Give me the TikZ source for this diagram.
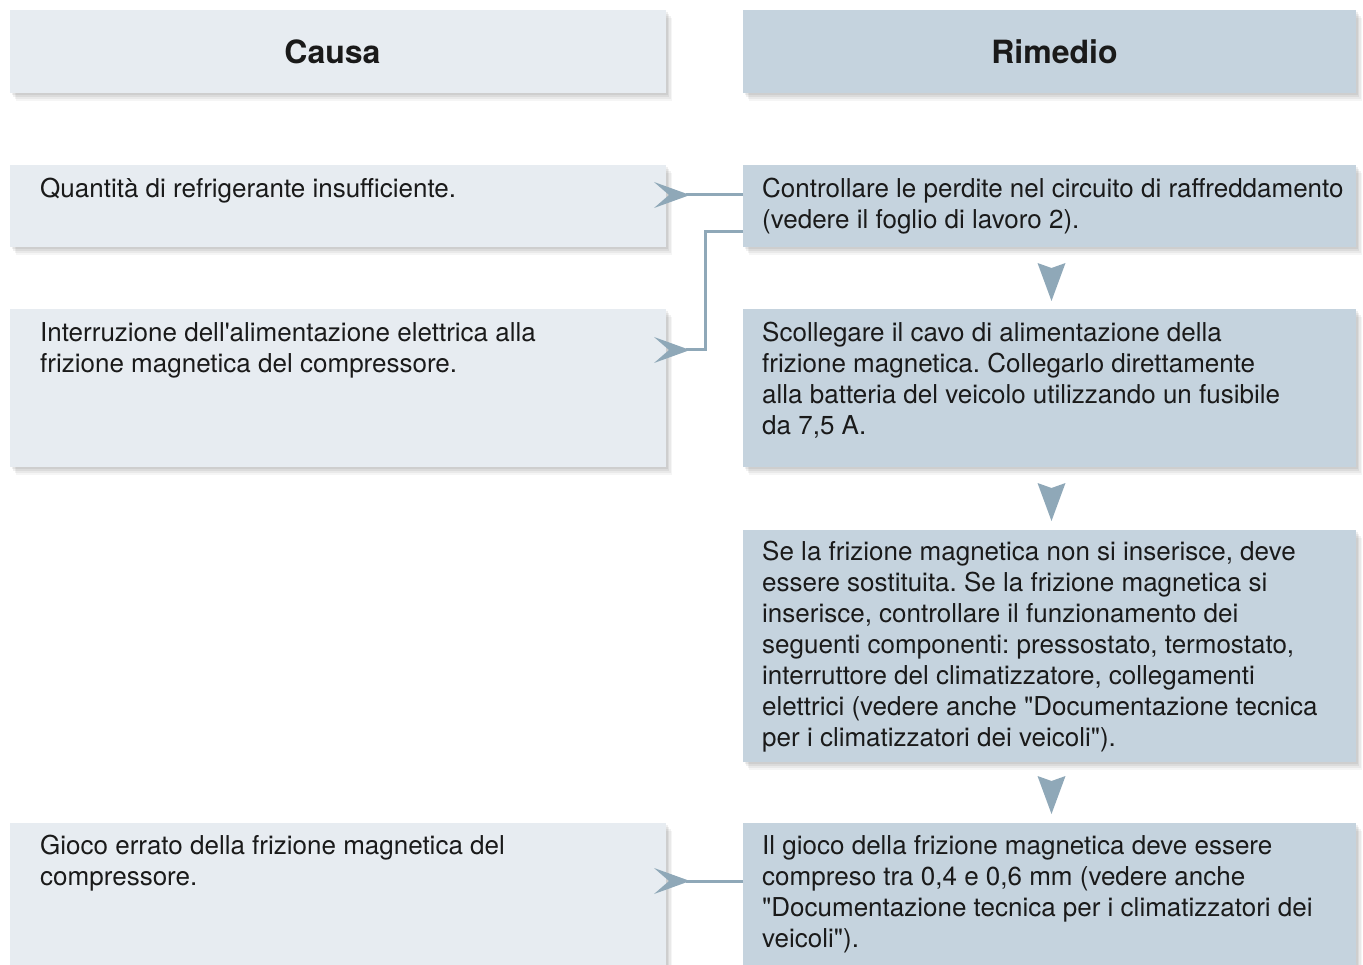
\documentclass[tikz,border=0pt]{standalone}
\usepackage{fontspec}
\setmainfont{TeX Gyre Heros}
\frenchspacing
\usetikzlibrary{arrows.meta,shadows,calc}
\definecolor{lightbox}{HTML}{E7ECF1}
\definecolor{darkbox}{HTML}{C5D3DE}
\definecolor{arrowc}{HTML}{8FA8B8}
\definecolor{txt}{HTML}{1A1A1A}
\begin{document}
\begin{tikzpicture}[x=1pt,y=-1pt,
  softshadow/.style={
    general shadow={shadow xshift=1.5pt,shadow yshift=-2pt,fill=black,opacity=0.06},
    general shadow={shadow xshift=3pt,shadow yshift=-4pt,fill=black,opacity=0.06},
    general shadow={shadow xshift=4.5pt,shadow yshift=-6pt,fill=black,opacity=0.05},
    general shadow={shadow xshift=6pt,shadow yshift=-8pt,fill=black,opacity=0.04}},
  box/.style={rectangle,inner sep=0pt,outer sep=0pt,anchor=north west,softshadow},
  lbox/.style={box,fill=lightbox},
  rbox/.style={box,fill=darkbox},
  lw/.style={minimum width=656pt},
  rw/.style={minimum width=613pt},
  headtext/.style={inner sep=0pt,font=\fontsize{32}{38}\selectfont\bfseries,text=txt},
  btext/.style={inner sep=0pt,align=left,anchor=north west,font=\fontsize{26}{31}\selectfont,text=txt},
  conn/.style={draw=arrowc,line width=3pt},
  headfill/.style={fill=arrowc}
]
\useasboundingbox (0,0) rectangle (1363,965);

% boxes
\node[lbox,lw,minimum height=83pt] (hc) at (10,10) {};
\node[rbox,rw,minimum height=83pt] (hr) at (743,10) {};
\node[lbox,lw,minimum height=82pt] (c1) at (10,165) {};
\node[rbox,rw,minimum height=82pt] (r1) at (743,165) {};
\node[lbox,lw,minimum height=158pt] (c2) at (10,309) {};
\node[rbox,rw,minimum height=158pt] (r2) at (743,309) {};
\node[rbox,rw,minimum height=232pt] (r3) at (743,530) {};
\node[lbox,lw,minimum height=152pt] (c4) at (10,823) {};
\node[rbox,rw,minimum height=152pt] (r4) at (743,823) {};

% header texts
\node[headtext] (thc) at (332.5,52) {Causa};
\node[headtext] (thr) at (1054.5,52) {Rimedio};

% body texts (y = first baseline - 0.7*31)
\node[btext] (tc1) at (40,175.3) {\strut Quantità di refrigerante insufficiente.};
\node[btext] (tr1) at (762,175.3) {\strut Controllare le perdite nel circuito di raffreddamento\\(vedere il foglio di lavoro 2).};
\node[btext] (tc2) at (40,319.3) {\strut Interruzione dell\textquotesingle alimentazione elettrica alla\\frizione magnetica del compressore.};
\node[btext] (tr2) at (762,319.3) {\strut Scollegare il cavo di alimentazione della\\frizione magnetica. Collegarlo direttamente\\alla batteria del veicolo utilizzando un fusibile\\da 7,5 A.};
\node[btext] (tr3) at (762,538.3) {\strut Se la frizione magnetica non si inserisce, deve\\essere sostituita. Se la frizione magnetica si\\inserisce, controllare il funzionamento dei\\seguenti componenti: pressostato, termostato,\\interruttore del climatizzatore, collegamenti\\elettrici (vedere anche \textquotedbl Documentazione tecnica\\per i climatizzatori dei veicoli\textquotedbl).};
\node[btext] (tc4) at (40,832.3) {\strut Gioco errato della frizione magnetica del\\compressore.};
\node[btext] (tr4) at (762,832.3) {\strut Il gioco della frizione magnetica deve essere\\compreso tra 0,4 e 0,6 mm (vedere anche\\\textquotedbl Documentazione tecnica per i climatizzatori dei\\veicoli\textquotedbl).};

% arrow tip coordinates
\coordinate (a1) at ([xshift=24pt,yshift=-30pt]c1.north east);
\coordinate (a2) at ([xshift=24pt,yshift=-41pt]c2.north east);
\coordinate (a4) at ([xshift=24pt,yshift=-58pt]c4.north east);
\coordinate (v1) at ([xshift=2pt,yshift=-54pt]r1.south);
\coordinate (v2) at ([xshift=2pt,yshift=-54pt]r2.south);
\coordinate (v3) at ([xshift=2pt,yshift=-52pt]r3.south);

% connectors
\draw[conn] ([yshift=-30pt]r1.north west) -- ([xshift=-4pt]a1);
\draw[conn] ([yshift=-67pt]r1.north west) -- ++(-38,0) |- ([xshift=-4pt]a2);
\draw[conn] ([yshift=-58pt]r4.north west) -- ([xshift=-4pt]a4);

% horizontal arrowheads (pointing right)
\foreach \t in {a1,a2,a4}{
  \fill[headfill] (\t) -- ++(-36,-13) -- ++(15,13) -- ++(-15,13) -- cycle;
}
% vertical arrowheads (pointing down)
\foreach \t in {v1,v2,v3}{
  \fill[headfill] (\t) -- ++(-14,-38) -- ++(14,5) -- ++(14,-5) -- cycle;
}
\end{tikzpicture}
\end{document}
